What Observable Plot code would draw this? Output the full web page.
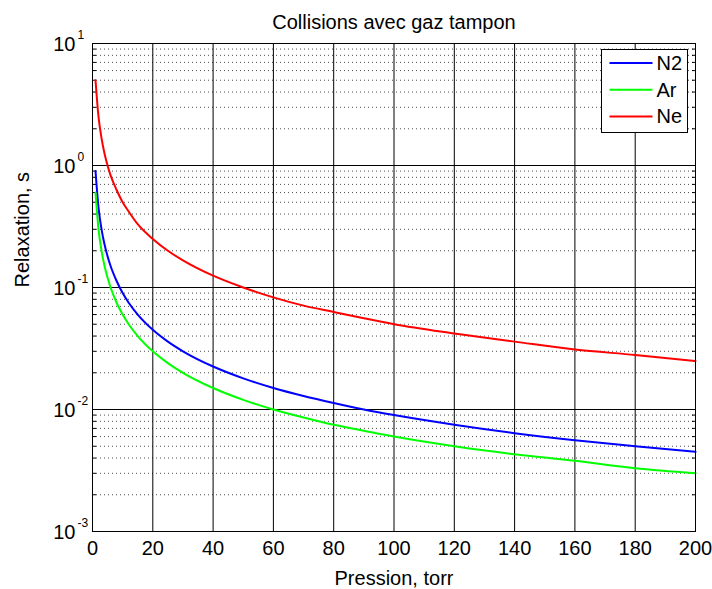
<!DOCTYPE html>
<html>
<head>
<meta charset="utf-8">
<script src="https://cdn.jsdelivr.net/npm/d3@7"></script>
<script src="https://cdn.jsdelivr.net/npm/@observablehq/plot@0.6"></script>
<style>
  html, body { margin: 0; padding: 0; background: #fff; }
  #chart { position: relative; width: 712px; height: 589px; }
  svg { font-family: "Liberation Sans", Arial, Helvetica, sans-serif; }
</style>
</head>
<body>
<div id="chart"></div>
<script>
// ---- data ----
const pressure = [1, 2, 3, 4, 5, 6, 8, 10, 12, 15, 20, 25, 30, 40, 50, 60, 70, 80, 90, 100, 120, 140, 160, 180, 200];
const relaxN2 = [0.9, 0.45, 0.3, 0.225, 0.18, 0.15, 0.113, 0.09, 0.075, 0.06, 0.045, 0.036, 0.03, 0.0225, 0.018, 0.015, 0.0129, 0.0113, 0.01, 0.009, 0.0075, 0.0064, 0.0056, 0.005, 0.0045];
const relaxAr = [0.6, 0.3, 0.2, 0.15, 0.12, 0.1, 0.075, 0.06, 0.05, 0.04, 0.03, 0.024, 0.02, 0.015, 0.012, 0.01, 0.0086, 0.0075, 0.0067, 0.006, 0.005, 0.0043, 0.0038, 0.0033, 0.003];
const relaxNe = [5.0, 2.5, 1.67, 1.25, 1.0, 0.83, 0.63, 0.5, 0.42, 0.33, 0.25, 0.2, 0.167, 0.125, 0.1, 0.083, 0.071, 0.063, 0.056, 0.05, 0.042, 0.036, 0.031, 0.028, 0.025];
const seriesNames = ["N2", "Ar", "Ne"];
const seriesColors = ["#0000ff", "#00ff00", "#ff0000"];
const xTicks = [0, 20, 40, 60, 80, 100, 120, 140, 160, 180, 200];
const yDecades = [1e-3, 1e-2, 1e-1, 1e0, 1e1];
const yExponents = ["-3", "-2", "-1", "0", "1"];
const titleText = "Collisions avec gaz tampon";
const xLabel = "Pression, torr";
const yLabel = "Relaxation, s";

// ---- build tables ----
const seriesValues = [relaxN2, relaxAr, relaxNe];
const rows = [];
seriesNames.forEach((name, k) => {
  pressure.forEach((p, i) => rows.push({gas: name, p, v: seriesValues[k][i]}));
});
const yMinor = [];
for (let d = 0; d < yDecades.length - 1; d++) {
  for (let m = 2; m <= 9; m++) yMinor.push(yDecades[d] * m);
}
const decadeRows = yDecades.map((v, i) => ({v, e: yExponents[i]}));

const FS = 20;
const plot = Plot.plot({
  width: 712,
  height: 589,
  marginLeft: 92,
  marginRight: 17,
  marginTop: 43,
  marginBottom: 58,
  style: {background: "#fff", fontSize: FS + "px", fontFamily: "'Liberation Sans', Arial, sans-serif", overflow: "visible"},
  x: {domain: [0, 200], axis: null},
  y: {type: "log", domain: [1e-3, 10], axis: null},
  color: {domain: seriesNames, range: seriesColors},
  marks: [
    // minor dotted horizontal grid
    Plot.ruleY(yMinor, {stroke: "#000", strokeOpacity: 0.7, strokeWidth: 1, strokeDasharray: "1,3"}),
    // major grid
    Plot.ruleY(yDecades, {stroke: "#000", strokeWidth: 1}),
    Plot.ruleX(xTicks, {stroke: "#000", strokeWidth: 1}),
    // minor ticks inside on left and right
    Plot.axisY({anchor: "left", ticks: yMinor, tickSize: -4, tickFormat: () => "", label: null, stroke: "#000"}),
    Plot.axisY({anchor: "right", ticks: yMinor, tickSize: -4, tickFormat: () => "", label: null, stroke: "#000"}),
    // data curves
    Plot.line(rows, {x: "p", y: "v", z: "gas", stroke: "gas", strokeWidth: 2, curve: "monotone-x"}),
    Plot.frame({stroke: "#000", strokeWidth: 1}),
    // x tick labels
    Plot.axisX({anchor: "bottom", ticks: xTicks, tickSize: 0, tickPadding: 9, fontSize: FS, label: null, fill: "#000"}),
    // y tick labels: "10" + exponent
    Plot.text(decadeRows, {y: "v", frameAnchor: "left", text: () => "10", textAnchor: "end", lineAnchor: "middle", dx: -17, dy: 1, fontSize: FS, fill: "#000"}),
    Plot.text(decadeRows, {y: "v", frameAnchor: "left", text: "e", textAnchor: "start", lineAnchor: "middle", dx: -15, dy: -8, fontSize: 12, fill: "#000"}),
    // labels and title
    Plot.text([xLabel], {frameAnchor: "bottom", lineAnchor: "middle", dy: 47, fontSize: FS, fill: "#000"}),
    Plot.text([yLabel], {frameAnchor: "left", lineAnchor: "middle", rotate: -90, dx: -70, fontSize: FS, fill: "#000"}),
    Plot.text([titleText], {frameAnchor: "top", lineAnchor: "middle", dy: -21, fontSize: FS, fill: "#000"})
  ]
});
document.getElementById("chart").appendChild(plot);

// ---- legend box (inside axes, top-right) ----
const svg = d3.select(plot);
const lg = svg.append("g").attr("transform", "translate(601.5,49.5)").attr("text-anchor", "start");
lg.append("rect").attr("x", 0).attr("y", 0).attr("width", 86).attr("height", 83)
  .attr("fill", "#fff").attr("stroke", "#000").attr("stroke-width", 1);
seriesNames.forEach((name, i) => {
  const yy = 13.5 + i * 26.7;
  lg.append("line").attr("x1", 8).attr("x2", 51).attr("y1", yy).attr("y2", yy)
    .attr("stroke", seriesColors[i]).attr("stroke-width", 2);
  lg.append("text").attr("x", 55).attr("y", yy).attr("dy", "0.35em")
    .attr("text-anchor", "start").attr("font-size", FS).attr("fill", "#000").text(name);
});
</script>
</body>
</html>
